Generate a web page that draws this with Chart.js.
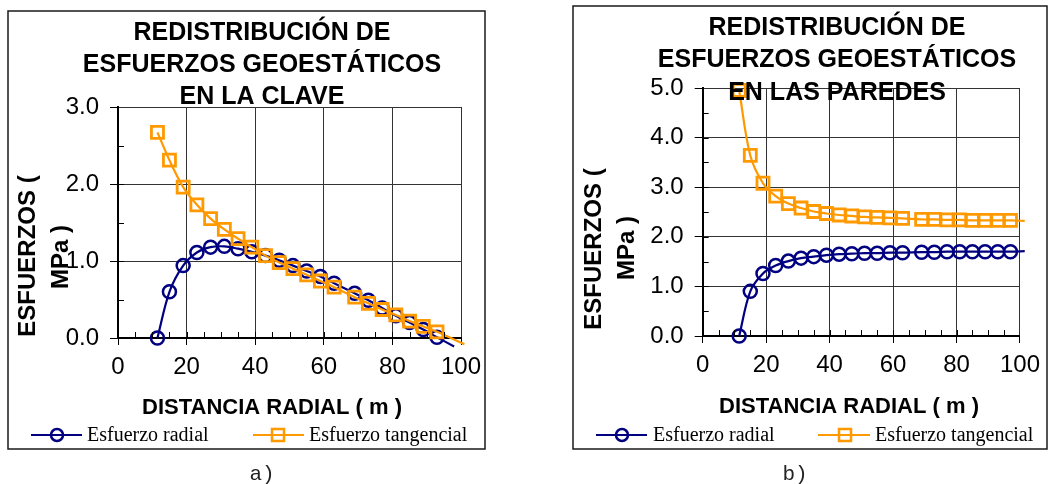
<!DOCTYPE html>
<html>
<head>
<meta charset="utf-8">
<script src="https://cdn.jsdelivr.net/npm/chart.js@4.4.1/dist/chart.umd.min.js"></script>
<style>
  html, body { margin: 0; padding: 0; background: #fff; }
  body { width: 1048px; height: 484px; position: relative; overflow: hidden; }
  .panel { position: absolute; top: 0; height: 484px; }
  #panelA { left: 0; width: 490px; }
  #panelB { left: 560px; width: 488px; }
</style>
</head>
<body>
<div class="panel" id="panelA"><canvas id="chartA" width="490" height="484"></canvas></div>
<div class="panel" id="panelB"><canvas id="chartB" width="488" height="484"></canvas></div>
<script>
// ---- Data: stress redistribution around the excavation ----
// Radial distance (m) of the computed points
const distancia = [11.5, 15, 19, 23, 27, 31, 35, 39, 43, 47, 51, 55, 59, 63, 69, 73, 77, 81, 85, 89, 93];
const distanciaParedes = [11.5, 15, 19, 23, 27, 31, 35, 39, 43, 47, 51, 55, 59, 63, 69, 73, 77, 81, 85, 89, 93, 97];

// a) Crown (clave), MPa
const radialClave = [0, 0.60, 0.94, 1.11, 1.18, 1.19, 1.16, 1.12, 1.07, 1.01, 0.94, 0.87, 0.80, 0.71, 0.58, 0.49, 0.39, 0.29, 0.20, 0.11, 0.01];
const tangencialClave = [2.67, 2.31, 1.96, 1.73, 1.55, 1.41, 1.29, 1.18, 1.07, 0.98, 0.90, 0.82, 0.74, 0.66, 0.53, 0.45, 0.37, 0.30, 0.22, 0.15, 0.08];
// curve continuation past the last marker [distance, MPa]
const radialClaveFin = [98, -0.11];
const tangencialClaveFin = [101, -0.08];

// b) Side walls (paredes), MPa
const radialParedes = [0, 0.90, 1.26, 1.42, 1.51, 1.57, 1.60, 1.63, 1.65, 1.66, 1.67, 1.67, 1.68, 1.68, 1.69, 1.69, 1.70, 1.70, 1.70, 1.70, 1.70, 1.70];
const tangencialParedes = [4.95, 3.64, 3.08, 2.82, 2.67, 2.58, 2.51, 2.47, 2.44, 2.42, 2.40, 2.39, 2.38, 2.37, 2.35, 2.35, 2.34, 2.34, 2.33, 2.33, 2.33, 2.33];
const radialParedesFin = [101.5, 1.71];
const tangencialParedesFin = [101.5, 2.32];

// Axis ticks
const xTicks = [0, 20, 40, 60, 80, 100];
const yTicksClave = [0, 1, 2, 3];
const yTicksParedes = [0, 1, 2, 3, 4, 5];

const SANS = '"Liberation Sans", Arial, sans-serif';
const SERIF = '"Liberation Serif", "Times New Roman", serif';
const MONO = '"Liberation Mono", "Courier New", monospace';
const NAVY = '#000080';
const ORANGE = '#FF9900';

function puntos(xs, ys, fin) {
  const p = xs.map((x, i) => ({ x: x, y: ys[i] }));
  if (fin) p.push({ x: fin[0], y: fin[1] });
  return p;
}

// Frame, titles, minor ticks, legend and caption drawn around the Chart.js plot
const decoracion = {
  id: 'decoracion',
  beforeDraw(chart) {
    const o = chart.options.plugins.decoracion;
    const c = chart.ctx;
    c.save();
    c.fillStyle = '#fff';
    c.fillRect(0, 0, chart.width, chart.height);
    c.strokeStyle = '#1a1a1a';
    c.lineWidth = 1.5;
    c.strokeRect(o.box[0], o.box[1], o.box[2], o.box[3]);
    c.restore();
  },
  afterDraw(chart) {
    const o = chart.options.plugins.decoracion;
    const c = chart.ctx;
    const xs = chart.scales.x, ys = chart.scales.y;
    const a = chart.chartArea;
    c.save();
    // minor ticks pointing into the plot
    c.strokeStyle = '#000';
    c.lineWidth = 1;
    c.beginPath();
    for (let v = 0.5; v < ys.max; v += 0.5) {
      const py = Math.round(ys.getPixelForValue(v)) + 0.5;
      c.moveTo(a.left, py); c.lineTo(a.left + 6, py);
    }
    for (let v = 5; v < xs.max; v += 5) {
      const px = Math.round(xs.getPixelForValue(v)) + 0.5;
      c.moveTo(px, a.bottom); c.lineTo(px, a.bottom - 6);
    }
    c.stroke();

    // chart title
    c.fillStyle = '#000';
    c.textAlign = 'center';
    c.textBaseline = 'middle';
    c.font = 'bold 25px ' + SANS;
    o.title.forEach((t, i) => c.fillText(t, o.titleX, o.titleY[i]));

    // x axis title
    c.font = 'bold 22px ' + SANS;
    c.fillText('DISTANCIA RADIAL ( m )', o.xTitle[0], o.xTitle[1]);

    // y axis title (two rotated lines)
    c.font = 'bold 24px ' + SANS;
    const yLines = ['ESFUERZOS (', 'MPa )'];
    yLines.forEach((t, i) => {
      c.save();
      c.translate(o.yTitle[i][0], o.yTitle[i][1]);
      c.rotate(-Math.PI / 2);
      c.fillText(t, 0, 0);
      c.restore();
    });

    // legend
    const ds = chart.data.datasets;
    c.textAlign = 'left';
    c.font = '20px ' + SERIF;
    o.legend.forEach((L, i) => {
      const d = ds[i];
      c.strokeStyle = d.borderColor;
      c.lineWidth = 2.2;
      c.beginPath();
      c.moveTo(L.x1, o.legendY); c.lineTo(L.x2, o.legendY);
      c.stroke();
      c.lineWidth = 2.5;
      c.beginPath();
      if (d.pointStyle === 'circle') {
        c.arc(L.m, o.legendY, 6, 0, Math.PI * 2);
      } else {
        c.rect(L.m - 6, o.legendY - 6, 12, 12);
      }
      c.stroke();
      c.fillStyle = '#000';
      c.fillText(d.label, L.t, o.legendY + 1);
    });

    // caption below the frame
    c.textAlign = 'center';
    c.fillStyle = '#222';
    c.font = '21px ' + MONO;
    c.fillText(o.caption, o.captionPos[0], o.captionPos[1]);
    c.restore();
  }
};

function crearGrafico(id, cfg) {
  const canvas = document.getElementById(id);
  const W = canvas.width, H = canvas.height;
  const Y_W = 60, X_H = 50;
  const n1 = cfg.radialX.length, n2 = cfg.tangX.length;
  return new Chart(canvas.getContext('2d'), {
    type: 'line',
    data: {
      datasets: [
        {
          label: 'Esfuerzo radial',
          data: puntos(cfg.radialX, cfg.radial, cfg.radialFin),
          borderColor: NAVY,
          backgroundColor: 'transparent',
          borderWidth: 2.2,
          pointStyle: 'circle',
          pointRadius: c => (c.dataIndex < n1 ? 6.5 : 0),
          pointBorderWidth: 2.5,
          pointBorderColor: NAVY,
          pointBackgroundColor: 'transparent',
          tension: 0.35,
          clip: false,
          order: 1
        },
        {
          label: 'Esfuerzo tangencial',
          data: puntos(cfg.tangX, cfg.tang, cfg.tangFin),
          borderColor: ORANGE,
          backgroundColor: 'transparent',
          borderWidth: 2.2,
          pointStyle: 'rect',
          pointRadius: c => (c.dataIndex < n2 ? 8.5 : 0),
          pointBorderWidth: 2.8,
          pointBorderColor: ORANGE,
          pointBackgroundColor: 'transparent',
          tension: 0.35,
          clip: false,
          order: 0
        }
      ]
    },
    options: {
      responsive: false,
      animation: false,
      devicePixelRatio: 1,
      events: [],
      layout: {
        padding: {
          left: cfg.area.left - Y_W,
          right: W - cfg.area.right,
          top: cfg.area.top,
          bottom: H - cfg.area.bottom - X_H
        }
      },
      plugins: {
        legend: { display: false },
        tooltip: { enabled: false },
        title: { display: false },
        decoracion: cfg.decor
      },
      scales: {
        x: {
          type: 'linear',
          min: xTicks[0],
          max: xTicks[xTicks.length - 1],
          afterFit: s => { s.height = X_H; },
          afterBuildTicks: s => { s.ticks = xTicks.map(v => ({ value: v })); },
          ticks: {
            font: { family: SANS, size: 24 },
            color: '#000',
            padding: 8,
            maxRotation: 0,
            callback: v => String(v)
          },
          grid: { color: '#333', lineWidth: 1, tickLength: 7, tickColor: '#000' },
          border: { color: '#000', width: 2 }
        },
        y: {
          type: 'linear',
          min: cfg.yTicks[0],
          max: cfg.yTicks[cfg.yTicks.length - 1],
          afterFit: s => { s.width = Y_W; },
          afterBuildTicks: s => { s.ticks = cfg.yTicks.map(v => ({ value: v })); },
          ticks: {
            font: { family: SANS, size: 24 },
            color: '#000',
            padding: 11,
            callback: v => v.toFixed(1)
          },
          grid: { color: '#333', lineWidth: 1, tickLength: 8, tickColor: '#000' },
          border: { color: '#000', width: 2 }
        }
      }
    },
    plugins: [decoracion]
  });
}

crearGrafico('chartA', {
  radialX: distancia, radial: radialClave, radialFin: radialClaveFin,
  tangX: distancia, tang: tangencialClave, tangFin: tangencialClaveFin,
  yTicks: yTicksClave,
  area: { left: 118, top: 107, right: 461, bottom: 338 },
  decor: {
    box: [8, 11, 477, 438],
    title: ['REDISTRIBUCIÓN DE', 'ESFUERZOS GEOESTÁTICOS', 'EN LA CLAVE'],
    titleX: 262, titleY: [33, 65, 97],
    xTitle: [272, 408],
    yTitle: [[28, 256], [61, 257]],
    legendY: 435,
    legend: [{ x1: 31, x2: 82, m: 57, t: 87 }, { x1: 253, x2: 304, m: 278, t: 309 }],
    caption: 'a)', captionPos: [262, 474]
  }
});

crearGrafico('chartB', {
  radialX: distanciaParedes, radial: radialParedes, radialFin: radialParedesFin,
  tangX: distanciaParedes, tang: tangencialParedes, tangFin: tangencialParedesFin,
  yTicks: yTicksParedes,
  area: { left: 142.7, top: 88, right: 467, bottom: 336 },
  decor: {
    box: [13, 6, 474, 443],
    title: ['REDISTRIBUCIÓN DE', 'ESFUERZOS GEOESTÁTICOS', 'EN LAS PAREDES'],
    titleX: 277, titleY: [28, 60, 93],
    xTitle: [289, 407],
    yTitle: [[34, 249], [67, 248]],
    legendY: 435,
    legend: [{ x1: 36, x2: 87, m: 62, t: 93 }, { x1: 258, x2: 310, m: 285, t: 315 }],
    caption: 'b)', captionPos: [235, 474]
  }
});
</script>
</body>
</html>
